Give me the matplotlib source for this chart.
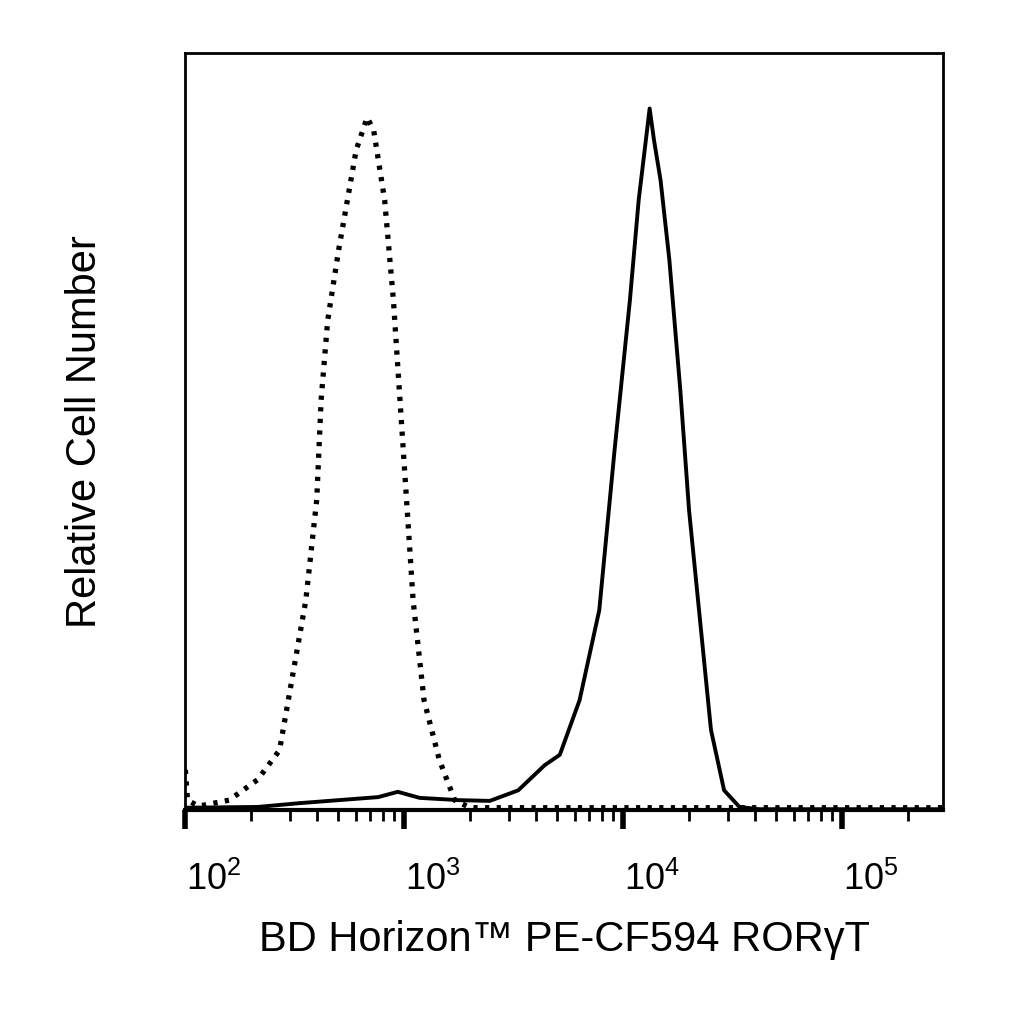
import numpy as np
import matplotlib
matplotlib.use("Agg")
import matplotlib.pyplot as plt
from matplotlib.ticker import FixedLocator, NullFormatter

plt.rcParams['font.family'] = ['Liberation Sans', 'DejaVu Sans']
plt.rcParams['mathtext.fontset'] = 'custom'
plt.rcParams['mathtext.rm'] = 'Liberation Sans'
plt.rcParams['mathtext.it'] = 'Liberation Sans'

# isotype control (dotted): log10 intensity, relative count (% of axis height)
iso_logx = [2.0, 2.01, 2.06, 2.20, 2.33, 2.43, 2.47, 2.55, 2.60, 2.62, 2.65, 2.70, 2.78, 2.83,
            2.86, 2.91, 2.95, 2.98, 3.01, 3.04, 3.09, 3.16, 3.23, 3.30, 5.46]
iso_y = [5.3, 1.3, 0.5, 1.3, 4.0, 7.9, 14.5, 27.7, 41.0, 54.2, 64.7, 74.0, 87.2, 91.5,
         89.8, 80.6, 67.4, 54.2, 41.0, 27.7, 14.5, 6.6, 1.3, 0.3, 0.3]

# RORgammaT stained (solid)
ror_logx = [2.0, 2.33, 2.52, 2.70, 2.88, 2.97, 3.07, 3.25, 3.39, 3.52, 3.64, 3.71, 3.80, 3.89,
            3.96, 4.03, 4.07, 4.12, 4.14, 4.17, 4.21, 4.26, 4.30, 4.35, 4.40, 4.46, 4.53, 4.62, 5.46]
ror_y = [0.3, 0.4, 0.9, 1.3, 1.7, 2.4, 1.6, 1.3, 1.2, 2.6, 5.9, 7.3, 14.5, 26.4,
         47.6, 67.4, 80.6, 92.7, 88.5, 83.2, 72.7, 55.5, 39.6, 25.1, 10.6, 2.6, 0.4, 0.1, 0.1]

decades = [2, 3, 4, 5]

fig = plt.figure(figsize=(10.24, 10.24), dpi=100)
ax = fig.add_axes([0.181, 0.209, 0.740, 0.739])

ax.plot(10 ** np.array(iso_logx), iso_y, color='black', lw=3.8, linestyle=(0, (0.8, 1.4)))
ax.plot(10 ** np.array(ror_logx), ror_y, color='black', lw=2.8)

ax.set_xscale('log')
ax.set_xlim(10 ** 2.0, 10 ** 5.46)
ax.set_ylim(0, 100)
ax.set_yticks([])

minors = [m * 10 ** d for d in decades for m in range(2, 10) if m * 10 ** d < 10 ** 5.46]
ax.xaxis.set_major_locator(FixedLocator([10 ** d for d in decades]))
ax.xaxis.set_minor_locator(FixedLocator(minors))
ax.xaxis.set_major_formatter(NullFormatter())
ax.xaxis.set_minor_formatter(NullFormatter())
ax.tick_params(axis='x', which='major', length=14, width=4, direction='out')
ax.tick_params(axis='x', which='minor', length=8, width=2, direction='out')
for s in ax.spines.values():
    s.set_linewidth(2)
ax.spines['bottom'].set_linewidth(3)

for d in decades:
    ax.text(10 ** (d + 0.13), -6.8, r'$10^{%d}$' % d, ha='center', va='top', fontsize=26)

ax.set_xlabel('BD Horizon™ PE-CF594 RORγT', fontsize=30, labelpad=62)
ax.set_ylabel('Relative Cell Number', fontsize=30, labelpad=58)

fig.savefig('out.png', dpi=100)
